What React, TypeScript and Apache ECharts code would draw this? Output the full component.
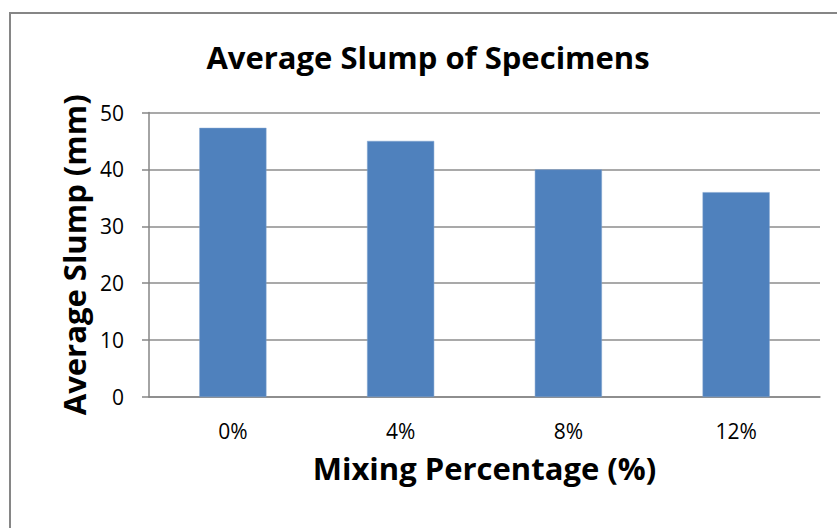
import React, { useEffect, useRef } from "react";
import * as echarts from "echarts";

const categories = ["0%", "4%", "8%", "12%"];
const slumpValues = [47.3, 45, 40, 36];
const yTicks = { min: 0, max: 50, interval: 10 };

const chartTitle = "Average Slump of Specimens";
const xTitle = "Mixing Percentage (%)";
const yTitle = "Average Slump (mm)";

const FONT = "'Open Sans', 'Noto Sans', sans-serif";

export default function App() {
  const ref = useRef<HTMLDivElement>(null);

  useEffect(() => {
    if (!ref.current) return;
    const chart = echarts.init(ref.current, null, { renderer: "svg" });
    chart.setOption({
      animation: false,
      backgroundColor: "#ffffff",
      graphic: [
        {
          type: "rect",
          shape: { x: 10, y: 13, width: 1200, height: 900 },
          style: { fill: "none", stroke: "#868686", lineWidth: 2 },
          silent: true,
        },
        {
          type: "text",
          x: 428,
          y: 57,
          style: {
            text: chartTitle,
            font: `bold 31px ${FONT}`,
            fill: "#000000",
            align: "center",
            verticalAlign: "middle",
          },
        },
      ],
      grid: { left: 149, right: 17, top: 112.5, bottom: 131, containLabel: false },
      xAxis: {
        type: "category",
        data: categories,
        name: xTitle,
        nameLocation: "middle",
        nameGap: 55,
        nameTextStyle: { fontFamily: FONT, fontWeight: "bold", fontSize: 31, color: "#000" },
        axisLine: { show: true, lineStyle: { color: "#868686", width: 1.5 } },
        axisTick: { show: false },
        axisLabel: { fontFamily: FONT, fontSize: 21, color: "#000", margin: 23 },
        splitLine: { show: false },
      },
      yAxis: {
        type: "value",
        min: yTicks.min,
        max: yTicks.max,
        interval: yTicks.interval,
        name: yTitle,
        nameLocation: "middle",
        nameGap: 60,
        nameTextStyle: { fontFamily: FONT, fontWeight: "bold", fontSize: 31, color: "#000" },
        axisLine: { show: true, lineStyle: { color: "#868686", width: 1.5 } },
        axisTick: { show: true, length: 7, lineStyle: { color: "#868686", width: 1.5 } },
        axisLabel: { fontFamily: FONT, fontSize: 21, color: "#000", margin: 25 },
        splitLine: { show: true, lineStyle: { color: "#8c8c8c", width: 1.5 } },
      },
      series: [
        {
          type: "bar",
          data: slumpValues,
          barWidth: "40%",
          itemStyle: { color: "#4F81BD", borderColor: "#7fa3cf", borderWidth: 0.5 },
        },
      ],
    });
    return () => chart.dispose();
  }, []);

  return (
    <div
      ref={ref}
      style={{ position: "fixed", left: 0, top: 0, width: 837, height: 528 }}
    />
  );
}
